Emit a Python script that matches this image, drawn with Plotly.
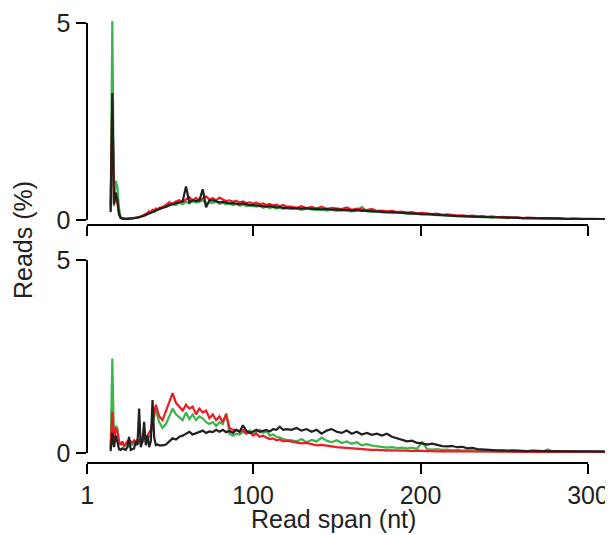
import plotly.graph_objects as go

OFF = 8  # page body margin shifts the figure by this many pixels
W, H = 613 - OFF, 535 - OFF

# read span (nt) sampled positions
span = list(range(15, 45)) + list(range(46, 121, 2)) + list(range(123, 316, 3))

# ---- top panel (% of reads) ----
top_green = [
    0.25, 5.05, 0.35, 1.00, 0.85, 0.30, 0.08, 0.04, 0.03, 0.03,
    0.03, 0.04, 0.04, 0.04, 0.05, 0.05, 0.06, 0.07, 0.08, 0.10,
    0.12, 0.14, 0.16, 0.17, 0.19, 0.22, 0.21, 0.25, 0.26, 0.28,
    0.30, 0.34, 0.36, 0.40, 0.38, 0.44, 0.40, 0.46, 0.42, 0.48,
    0.44, 0.46, 0.50, 0.42, 0.45, 0.43, 0.47, 0.41, 0.44, 0.40,
    0.42, 0.38, 0.41, 0.36, 0.39, 0.35, 0.37, 0.36, 0.34, 0.36,
    0.31, 0.34, 0.30, 0.33, 0.29, 0.31, 0.28, 0.30,
    0.28, 0.30, 0.26, 0.29, 0.27, 0.25, 0.27, 0.24, 0.26, 0.23,
    0.25, 0.24, 0.22, 0.24, 0.33, 0.22, 0.21, 0.22, 0.19, 0.20,
    0.18, 0.19, 0.17, 0.16, 0.17, 0.15, 0.14, 0.15, 0.13, 0.12,
    0.12, 0.11, 0.10, 0.10, 0.09, 0.09, 0.08, 0.08, 0.07, 0.07,
    0.06, 0.07, 0.06, 0.05, 0.06, 0.05, 0.05, 0.04, 0.05, 0.04,
    0.04, 0.04, 0.03, 0.04, 0.03, 0.03, 0.03, 0.03, 0.02, 0.03,
    0.02, 0.02, 0.02, 0.02, 0.02,
]
top_red = [
    0.35, 3.05, 0.45, 0.55, 0.45, 0.15, 0.05, 0.04, 0.03, 0.03,
    0.03, 0.04, 0.04, 0.05, 0.05, 0.06, 0.06, 0.08, 0.09, 0.11,
    0.13, 0.15, 0.18, 0.22, 0.20, 0.26, 0.24, 0.29, 0.27, 0.31,
    0.33, 0.38, 0.45, 0.41, 0.47, 0.50, 0.46, 0.52, 0.58, 0.50,
    0.56, 0.49, 0.55, 0.60, 0.52, 0.55, 0.50, 0.57, 0.52, 0.48,
    0.50, 0.46, 0.49, 0.44, 0.47, 0.43, 0.45, 0.42, 0.44, 0.40,
    0.42, 0.38, 0.41, 0.37, 0.39, 0.35, 0.38, 0.34,
    0.34, 0.31, 0.35, 0.30, 0.33, 0.29, 0.34, 0.28, 0.31, 0.30,
    0.28, 0.32, 0.26, 0.29, 0.27, 0.25, 0.28, 0.23, 0.24, 0.22,
    0.23, 0.20, 0.21, 0.19, 0.20, 0.17, 0.18, 0.16, 0.15, 0.16,
    0.13, 0.14, 0.12, 0.11, 0.12, 0.10, 0.11, 0.09, 0.10, 0.08,
    0.09, 0.07, 0.08, 0.07, 0.06, 0.07, 0.05, 0.06, 0.05, 0.05,
    0.04, 0.05, 0.04, 0.04, 0.04, 0.03, 0.04, 0.03, 0.03, 0.03,
    0.03, 0.02, 0.03, 0.02, 0.02,
]
top_black = [
    0.20, 3.22, 0.40, 0.70, 0.50, 0.15, 0.05, 0.03, 0.03, 0.03,
    0.03, 0.03, 0.04, 0.04, 0.05, 0.05, 0.06, 0.07, 0.08, 0.09,
    0.11, 0.13, 0.15, 0.17, 0.19, 0.21, 0.23, 0.25, 0.27, 0.29,
    0.31, 0.33, 0.38, 0.40, 0.42, 0.45, 0.47, 0.85, 0.45, 0.50,
    0.48, 0.50, 0.78, 0.32, 0.50, 0.50, 0.48, 0.45, 0.46, 0.44,
    0.42, 0.43, 0.41, 0.40, 0.42, 0.39, 0.38, 0.38, 0.37, 0.36,
    0.36, 0.34, 0.35, 0.33, 0.32, 0.33, 0.31, 0.31,
    0.30, 0.30, 0.29, 0.30, 0.28, 0.28, 0.27, 0.28, 0.26, 0.27,
    0.25, 0.26, 0.24, 0.25, 0.23, 0.23, 0.22, 0.22, 0.21, 0.20,
    0.20, 0.19, 0.18, 0.18, 0.17, 0.16, 0.15, 0.15, 0.14, 0.13,
    0.12, 0.12, 0.11, 0.10, 0.10, 0.09, 0.09, 0.08, 0.08, 0.07,
    0.07, 0.07, 0.06, 0.06, 0.06, 0.05, 0.05, 0.05, 0.05, 0.04,
    0.04, 0.04, 0.04, 0.04, 0.03, 0.03, 0.03, 0.03, 0.03, 0.03,
    0.03, 0.02, 0.02, 0.02, 0.02,
]

# ---- bottom panel (% of reads) ----
bot_green = [
    0.10, 2.45, 0.35, 0.70, 0.65, 0.30, 0.20, 0.28, 0.15, 0.22,
    0.25, 0.18, 0.25, 0.22, 0.28, 0.23, 0.30, 0.26, 0.32, 0.28,
    0.34, 0.32, 0.38, 0.42, 0.50, 0.70, 0.95, 1.15, 0.95, 0.80,
    0.65, 0.75, 0.95, 1.15, 1.00, 0.92, 0.85, 1.05, 0.88, 1.00,
    0.85, 0.95, 0.90, 0.80, 0.75, 0.80, 0.70, 0.80, 0.75, 1.03,
    0.50, 0.45, 0.50, 0.48, 0.55, 0.50, 0.58, 0.50, 0.55, 0.60,
    0.52, 0.58, 0.45, 0.48, 0.42, 0.40, 0.36, 0.34,
    0.33, 0.30, 0.36, 0.28, 0.34, 0.30, 0.40, 0.32, 0.28, 0.33,
    0.26, 0.30, 0.24, 0.28, 0.20, 0.23, 0.19, 0.17, 0.15, 0.14,
    0.15, 0.13, 0.14, 0.12, 0.13, 0.11, 0.28, 0.10, 0.09, 0.10,
    0.08, 0.09, 0.07, 0.08, 0.06, 0.07, 0.06, 0.05, 0.06, 0.05,
    0.05, 0.05, 0.04, 0.05, 0.04, 0.04, 0.05, 0.04, 0.04, 0.04,
    0.04, 0.09, 0.04, 0.03, 0.03, 0.04, 0.03, 0.03, 0.03, 0.03,
    0.03, 0.03, 0.03, 0.03, 0.03,
]
bot_red = [
    0.12, 1.07, 0.30, 0.65, 0.55, 0.30, 0.22, 0.30, 0.18, 0.25,
    0.30, 0.22, 0.30, 0.27, 0.33, 0.28, 0.35, 0.30, 0.38, 0.33,
    0.40, 0.38, 0.45, 0.50, 0.60, 0.85, 1.10, 1.25, 1.10, 0.95,
    0.85, 1.10, 1.35, 1.55, 1.30, 1.20, 1.10, 1.25, 1.15, 1.20,
    1.00, 1.15, 1.05, 1.10, 0.90, 1.00, 0.85, 0.95, 0.80, 1.00,
    0.65, 0.60, 0.60, 0.55, 0.60, 0.50, 0.55, 0.45, 0.50, 0.42,
    0.45, 0.40, 0.36, 0.38, 0.33, 0.35, 0.30, 0.32,
    0.30, 0.27, 0.25, 0.26, 0.22, 0.20, 0.21, 0.18, 0.17, 0.15,
    0.14, 0.12, 0.11, 0.10, 0.09, 0.09, 0.08, 0.08, 0.07, 0.07,
    0.07, 0.06, 0.06, 0.06, 0.05, 0.06, 0.05, 0.05, 0.05, 0.04,
    0.05, 0.04, 0.04, 0.04, 0.04, 0.04, 0.03, 0.04, 0.03, 0.03,
    0.03, 0.03, 0.03, 0.03, 0.03, 0.03, 0.03, 0.02, 0.03, 0.02,
    0.02, 0.02, 0.02, 0.02, 0.02, 0.02, 0.02, 0.02, 0.02, 0.02,
    0.02, 0.02, 0.02, 0.02, 0.02,
]
bot_black = [
    0.05, 0.52, 0.15, 0.45, 0.30, 0.10, 0.08, 0.12, 0.10, 0.08,
    0.15, 0.42, 0.08, 0.10, 0.12, 0.30, 0.20, 1.15, 0.15, 0.30,
    0.81, 0.20, 0.45, 0.15, 0.30, 1.37, 0.40, 0.20, 0.22, 0.20,
    0.20, 0.22, 0.30, 0.38, 0.35, 0.42, 0.45, 0.50, 0.55, 0.48,
    0.52, 0.55, 0.58, 0.52, 0.56, 0.54, 0.60, 0.55, 0.60, 0.54,
    0.57, 0.52, 0.60, 0.55, 0.72, 0.58, 0.52, 0.56, 0.60, 0.55,
    0.58, 0.60, 0.56, 0.62, 0.60, 0.68, 0.60, 0.62,
    0.60, 0.65, 0.58, 0.62, 0.55, 0.60, 0.50, 0.58, 0.62, 0.55,
    0.52, 0.58, 0.50, 0.55, 0.48, 0.52, 0.47, 0.50, 0.45, 0.50,
    0.42, 0.38, 0.35, 0.30, 0.32, 0.26, 0.25, 0.22, 0.24, 0.20,
    0.18, 0.17, 0.18, 0.15, 0.16, 0.12, 0.13, 0.10, 0.09, 0.08,
    0.08, 0.07, 0.07, 0.06, 0.07, 0.06, 0.06, 0.05, 0.06, 0.05,
    0.05, 0.05, 0.05, 0.04, 0.05, 0.04, 0.04, 0.05, 0.04, 0.04,
    0.04, 0.04, 0.04, 0.03, 0.04,
]

x_ticks = [1, 100, 200, 300]
y_ticks = [0, 5]

GREEN = '#3ab54a'
RED = '#ec1c24'
BLACK = '#231f20'
FONT = 'Liberation Sans, Arial, sans-serif'


def px_(p):
    # screen column -> paper fraction
    return (p - OFF) / W


def py(p):
    # screen row -> paper fraction
    return 1 - (p - OFF) / H


x0 = px_(87.2)          # x = 1
x300 = px_(588)         # x = 300
yax_pos = px_(86.5)

fig = go.Figure()

panels = [
    ('x', 'y', [top_green, top_red, top_black]),
    ('x2', 'y2', [bot_green, bot_red, bot_black]),
]
for xa, ya, series in panels:
    for vals, col in zip(series, [GREEN, RED, BLACK]):
        fig.add_trace(go.Scatter(x=span, y=vals, mode='lines', xaxis=xa, yaxis=ya,
                                 line=dict(color=col, width=2.2), showlegend=False,
                                 hoverinfo='skip'))

# empty traces so the detached tick axes get drawn
for xa, ya in [('x3', 'y3'), ('x4', 'y4')]:
    fig.add_trace(go.Scatter(x=[], y=[], xaxis=xa, yaxis=ya, showlegend=False,
                             hoverinfo='skip'))

hidden = dict(visible=False, showgrid=False, zeroline=False)
tick_ax = dict(showline=True, linecolor='black', linewidth=2, ticks='outside',
               ticklen=10, tickwidth=2, tickcolor='black', showgrid=False,
               zeroline=False, tickfont=dict(family=FONT, size=25, color='#231f20'),
               fixedrange=True)

fig.update_layout(
    width=W, height=H,
    margin=dict(l=0, r=0, t=0, b=0, autoexpand=False),
    plot_bgcolor='rgba(0,0,0,0)', paper_bgcolor='white',
    # data axes (invisible)
    xaxis=dict(domain=[x0, 1], range=[1, 315], anchor='y', **hidden),
    yaxis=dict(domain=[py(220), py(15.1)], range=[0, 5.2], anchor='x', **hidden),
    xaxis2=dict(domain=[x0, 1], range=[1, 315], anchor='y2', **hidden),
    yaxis2=dict(domain=[py(453), py(252.3)], range=[0, 5.2], anchor='x2', **hidden),
    # drawn axes
    xaxis3=dict(domain=[x0, x300], range=[1, 300], anchor='free', position=py(225),
                tickvals=x_ticks, showticklabels=False, **tick_ax),
    xaxis4=dict(domain=[x0, x300], range=[1, 300], anchor='free', position=py(463),
                tickvals=x_ticks, **tick_ax),
    yaxis3=dict(domain=[py(220), py(23)], range=[0, 5], anchor='free', position=yax_pos,
                tickvals=y_ticks, **tick_ax),
    yaxis4=dict(domain=[py(453), py(260)], range=[0, 5], anchor='free', position=yax_pos,
                tickvals=y_ticks, **tick_ax),
    annotations=[
        dict(text='Read span (nt)', x=px_(333), y=py(519), xref='paper', yref='paper',
             showarrow=False, font=dict(family=FONT, size=25, color='#231f20'),
             xanchor='center', yanchor='middle'),
        dict(text='Reads (%)', x=px_(23), y=py(240), xref='paper', yref='paper',
             showarrow=False, textangle=-90, font=dict(family=FONT, size=25, color='#231f20'),
             xanchor='center', yanchor='middle'),
    ],
)

fig.write_html('out.html')
